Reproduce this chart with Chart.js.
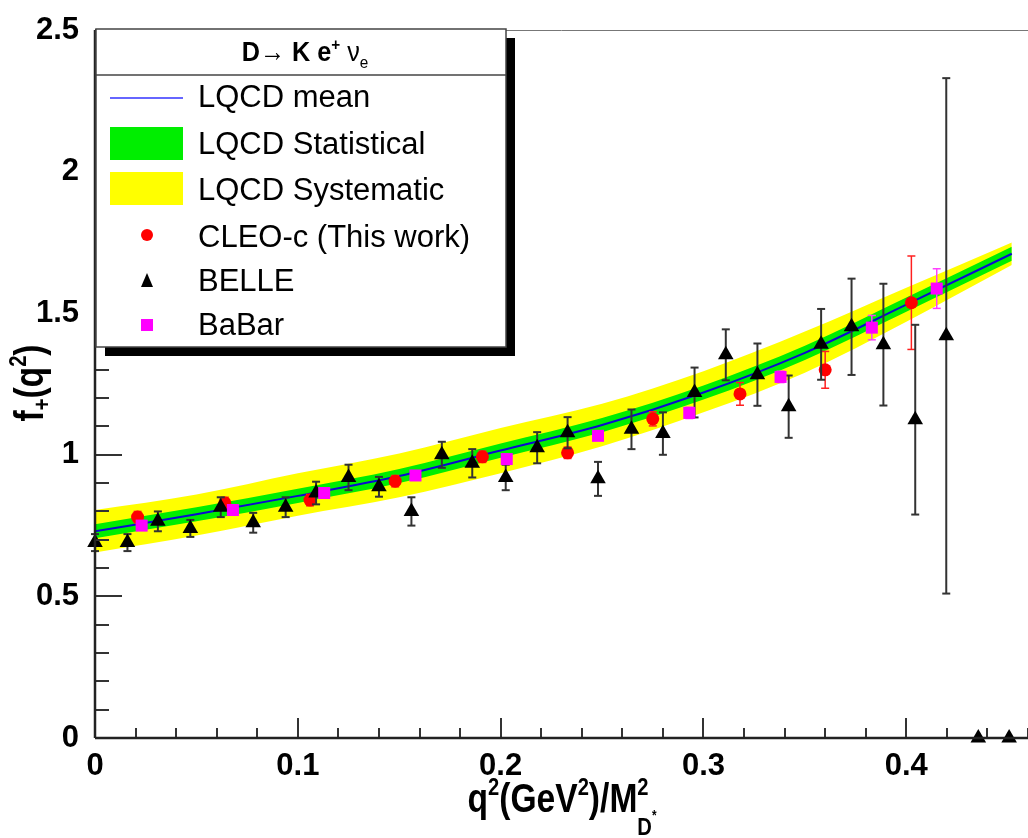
<!DOCTYPE html>
<html lang="en">
<head>
  <meta charset="UTF-8" />
  <title>f+(q2) for D -> K e nu</title>
  <style>
    html, body { margin: 0; padding: 0; background: #fff; }
    canvas { display: block; }
  </style>
</head>
<body>
  <canvas id="chart" width="1028" height="838"></canvas>

  <script src="https://cdn.jsdelivr.net/npm/chart.js"></script>
  <script>
    // LQCD band
    const bandX    = [0, 0.05, 0.10, 0.15, 0.20, 0.25, 0.30, 0.35, 0.40, 0.452];
    const lqcdMean = [0.73, 0.79, 0.855, 0.925, 1.015, 1.105, 1.22, 1.36, 1.53, 1.71];
    const statHi   = [0.755, 0.815, 0.88, 0.95, 1.04, 1.13, 1.245, 1.385, 1.555, 1.735];
    const statLo   = [0.705, 0.765, 0.83, 0.90, 0.99, 1.08, 1.195, 1.335, 1.505, 1.685];
    const sysHi    = [0.805, 0.86, 0.935, 1.005, 1.095, 1.18, 1.295, 1.435, 1.59, 1.75];
    const sysLo    = [0.655, 0.715, 0.785, 0.85, 0.935, 1.03, 1.15, 1.29, 1.47, 1.67];

    // CLEO-c (This work)
    const cleoX   = [0.021, 0.064, 0.106, 0.148, 0.191, 0.233, 0.275, 0.318, 0.360, 0.4025];
    const cleoY   = [0.78, 0.83, 0.84, 0.907, 0.993, 1.007, 1.127, 1.215, 1.30, 1.537];
    const cleoErr = [0.02, 0.02, 0.02, 0.02, 0.02, 0.02, 0.025, 0.04, 0.065, 0.165];

    // BELLE
    const belleX   = [0.000, 0.016, 0.031, 0.047, 0.062, 0.078, 0.094, 0.109, 0.125, 0.140,
                      0.156, 0.171, 0.186, 0.2025, 0.218, 0.233, 0.248, 0.2645, 0.280, 0.2956,
                      0.311, 0.3266, 0.342, 0.358, 0.373, 0.3887, 0.4044, 0.4197, 0.4355, 0.4507];
    const belleY   = [0.69, 0.69, 0.765, 0.74, 0.815, 0.76, 0.815, 0.865, 0.92, 0.887,
                      0.80, 1.00, 0.97, 0.92, 1.025, 1.078, 0.915, 1.09, 1.075, 1.22,
                      1.353, 1.283, 1.17, 1.39, 1.452, 1.389, 1.124, 1.42, 0, 0];
    const belleErr = [0.03, 0.03, 0.035, 0.03, 0.035, 0.035, 0.035, 0.04, 0.045, 0.035,
                      0.05, 0.046, 0.05, 0.045, 0.055, 0.055, 0.06, 0.07, 0.075, 0.088,
                      0.09, 0.11, 0.11, 0.125, 0.17, 0.215, 0.335, 0.91, 0, 0];

    // BaBar
    const babarX   = [0.023, 0.068, 0.113, 0.158, 0.203, 0.248, 0.293, 0.338, 0.383, 0.415];
    const babarY   = [0.75, 0.805, 0.865, 0.927, 0.985, 1.067, 1.148, 1.275, 1.449, 1.587];
    const babarErr = [0.015, 0.015, 0.015, 0.015, 0.015, 0.015, 0.02, 0.02, 0.043, 0.07];

    const FONT = '"Liberation Sans", Arial, sans-serif';

    const pts = (xs, ys) => xs.map((x, i) => ({ x: x, y: ys[i] }));
    const fmt = v => String(parseFloat(v.toFixed(2)));

    function line(ctx, x1, y1, x2, y2) {
      ctx.beginPath();
      ctx.moveTo(x1, y1);
      ctx.lineTo(x2, y2);
      ctx.stroke();
    }

    // draws a run of text pieces (sub/superscripts) around x; sx squeezes the glyphs sideways
    function drawRich(ctx, parts, x, y, align, sx) {
      sx = sx || 1;
      let total = 0;
      parts.forEach(p => {
        ctx.font = p.font;
        p.w = ctx.measureText(p.t).width;
        if (!p.keep) total += p.w;
      });
      ctx.save();
      ctx.translate(x, y);
      ctx.scale(sx, 1);
      let cx = align === "center" ? -total / 2 : 0;
      ctx.textBaseline = "alphabetic";
      ctx.textAlign = "left";
      parts.forEach(p => {
        ctx.font = p.font;
        ctx.fillText(p.t, cx, p.dy || 0);
        if (!p.keep) cx += p.w;
      });
      ctx.restore();
    }

    const errorBars = {
      id: "errorBars",
      beforeDatasetDraw(chart, args) {
        const ds = chart.data.datasets[args.index];
        if (!ds.errors) return;
        const { ctx, scales: { x, y } } = chart;
        ctx.save();
        ctx.strokeStyle = ds.errColor;
        ctx.lineWidth = ds.errWidth;
        ds.data.forEach((p, i) => {
          const e = ds.errors[i];
          if (!e) return;
          const px = x.getPixelForValue(p.x);
          const top = y.getPixelForValue(p.y + e);
          const bot = y.getPixelForValue(Math.max(p.y - e, 0));
          line(ctx, px, top, px, bot);
          line(ctx, px - 4, top, px + 4, top);
          line(ctx, px - 4, bot, px + 4, bot);
        });
        ctx.restore();
      }
    };

    const rootAxes = {
      id: "rootAxes",
      afterDatasetsDraw(chart) {
        const { ctx, chartArea: a, scales: { x, y } } = chart;
        ctx.save();
        ctx.strokeStyle = "#777";
        ctx.lineWidth = 1;
        line(ctx, a.left, a.top + 0.5, a.right, a.top + 0.5);

        ctx.strokeStyle = "#333";
        ctx.lineWidth = 2;
        for (let i = 0; i <= 25; i++) {
          const py = Math.round(y.getPixelForValue(i / 10));
          line(ctx, a.left, py, a.left + (i % 5 === 0 ? 27 : 14), py);
        }
        for (let i = 0; i <= 23; i++) {
          const px = Math.round(x.getPixelForValue(i * 0.02));
          line(ctx, px, a.bottom, px, a.bottom - (i % 5 === 0 ? 20 : 10));
        }
        ctx.strokeStyle = "#222";
        ctx.lineWidth = 2.5;
        line(ctx, a.left, a.top, a.left, a.bottom);
        line(ctx, a.left, a.bottom, a.right, a.bottom);
        ctx.restore();
      }
    };

    const titlesAndLegend = {
      id: "titlesAndLegend",
      afterDraw(chart) {
        const { ctx } = chart;
        ctx.save();
        ctx.fillStyle = "#000";

        // x axis title
        const big = "bold 40px " + FONT, sm = "bold 24px " + FONT;
        drawRich(ctx, [
          { t: "q", font: big }, { t: "2", font: sm, dy: -17 },
          { t: "(GeV", font: big }, { t: "2", font: sm, dy: -17 },
          { t: ")/M", font: big }, { t: "2", font: sm, dy: -17, keep: true },
          { t: "D", font: sm, dy: 23 }, { t: "*", font: "bold 14px " + FONT, dy: 8 }
        ], 562, 812, "center", 0.84);

        // y axis title
        ctx.save();
        ctx.translate(43, 383);
        ctx.rotate(-Math.PI / 2);
        drawRich(ctx, [
          { t: "f", font: big }, { t: "+", font: sm, dy: 7 },
          { t: "(q", font: big }, { t: "2", font: sm, dy: -17 },
          { t: ")", font: big }
        ], 0, 0, "center", 0.84);
        ctx.restore();

        // legend box with shadow
        const L = 96, T = 29, W = 410, H = 318;
        ctx.fillStyle = "#000";
        ctx.fillRect(L + 9, T + 9, W, H);
        ctx.fillStyle = "#fff";
        ctx.fillRect(L, T, W, H);
        ctx.strokeStyle = "#444";
        ctx.lineWidth = 1.5;
        ctx.strokeRect(L, T, W, H);
        line(ctx, L, 75, L + W, 75);

        ctx.fillStyle = "#000";
        const tb = "bold 28px " + FONT, tn = "28px " + FONT, ts = "bold 17px " + FONT;
        drawRich(ctx, [
          { t: "D", font: tb }, { t: "\u2192 ", font: tn },
          { t: "K e", font: tb }, { t: "+", font: ts, dy: -11 },
          { t: " \u03bd", font: tn }, { t: "e", font: "17px " + FONT, dy: 7 }
        ], 305, 61, "center", 0.9);

        ctx.font = "31px " + FONT;
        ctx.textAlign = "left";
        ctx.textBaseline = "alphabetic";
        const labels = ["LQCD mean", "LQCD Statistical", "LQCD Systematic",
                        "CLEO-c (This work)", "BELLE", "BaBar"];
        const baselines = [107, 154, 200, 247, 291, 335];
        labels.forEach((s, i) => ctx.fillText(s, 198, baselines[i]));

        ctx.strokeStyle = "#6666ff";
        ctx.lineWidth = 2;
        line(ctx, 110, 98, 183, 98);
        ctx.fillStyle = "#00ee00";
        ctx.fillRect(110, 127, 73, 33);
        ctx.fillStyle = "#ffff00";
        ctx.fillRect(110, 172, 73, 33);
        ctx.fillStyle = "#ff0000";
        ctx.beginPath();
        ctx.arc(147, 235, 6, 0, Math.PI * 2);
        ctx.fill();
        ctx.fillStyle = "#000";
        ctx.beginPath();
        ctx.moveTo(147, 273);
        ctx.lineTo(153, 287);
        ctx.lineTo(141, 287);
        ctx.closePath();
        ctx.fill();
        ctx.fillStyle = "#ff00ff";
        ctx.fillRect(141, 319, 12, 12);
        ctx.restore();
      }
    };

    const band = (data, color, fillTo, order) => ({
      type: "line",
      data: data,
      fill: fillTo,
      backgroundColor: color,
      borderColor: "transparent",
      borderWidth: 0,
      pointRadius: 0,
      cubicInterpolationMode: "monotone",
      order: order
    });

    const marks = (xs, ys, errs, style, radius, color, errColor, errWidth, order) => ({
      type: "scatter",
      data: pts(xs, ys),
      errors: errs,
      errColor: errColor,
      errWidth: errWidth,
      pointStyle: style,
      pointRadius: radius,
      backgroundColor: color,
      borderColor: color,
      borderWidth: 0,
      clip: false,
      order: order
    });

    new Chart(document.getElementById("chart"), {
      type: "scatter",
      data: {
        datasets: [
          band(pts(bandX, sysHi), "#ffff00", 1, 10),
          band(pts(bandX, sysLo), "#ffff00", false, 10),
          band(pts(bandX, statHi), "#00ee00", 3, 8),
          band(pts(bandX, statLo), "#00ee00", false, 8),
          {
            type: "line",
            data: pts(bandX, lqcdMean),
            borderColor: "#0a0ad0",
            borderWidth: 2,
            pointRadius: 0,
            fill: false,
            cubicInterpolationMode: "monotone",
            order: 6
          },
          marks(cleoX, cleoY, cleoErr, "circle", 6.5, "#ff0000", "#ff2020", 1.5, 3),
          marks(belleX, belleY, belleErr, "triangle", 9, "#000000", "#333333", 2, 2),
          marks(babarX, babarY, babarErr, "rect", 8.5, "#ff00ff", "#ff40ff", 1.5, 1)
        ]
      },
      options: {
        responsive: false,
        animation: false,
        layout: { autoPadding: false, padding: { top: 30, right: 0, bottom: 0, left: 0 } },
        plugins: { legend: { display: false }, tooltip: { enabled: false } },
        scales: {
          x: {
            type: "linear",
            min: 0,
            max: 0.46,
            grid: { display: false },
            border: { display: false },
            ticks: {
              stepSize: 0.1,
              includeBounds: false,
              maxRotation: 0,
              padding: 2,
              color: "#000",
              font: { family: FONT, size: 31, weight: "bold" },
              callback: v => fmt(v)
            },
            afterFit: s => { s.height = 100; s.paddingRight = 0; s.paddingLeft = 0; }
          },
          y: {
            min: 0,
            max: 2.5,
            grid: { display: false },
            border: { display: false },
            ticks: {
              stepSize: 0.5,
              padding: 8,
              color: "#000",
              font: { family: FONT, size: 31, weight: "bold" },
              callback: v => fmt(v)
            },
            afterFit: s => { s.width = 95; }
          }
        }
      },
      plugins: [errorBars, rootAxes, titlesAndLegend]
    });
  </script>
</body>
</html>
